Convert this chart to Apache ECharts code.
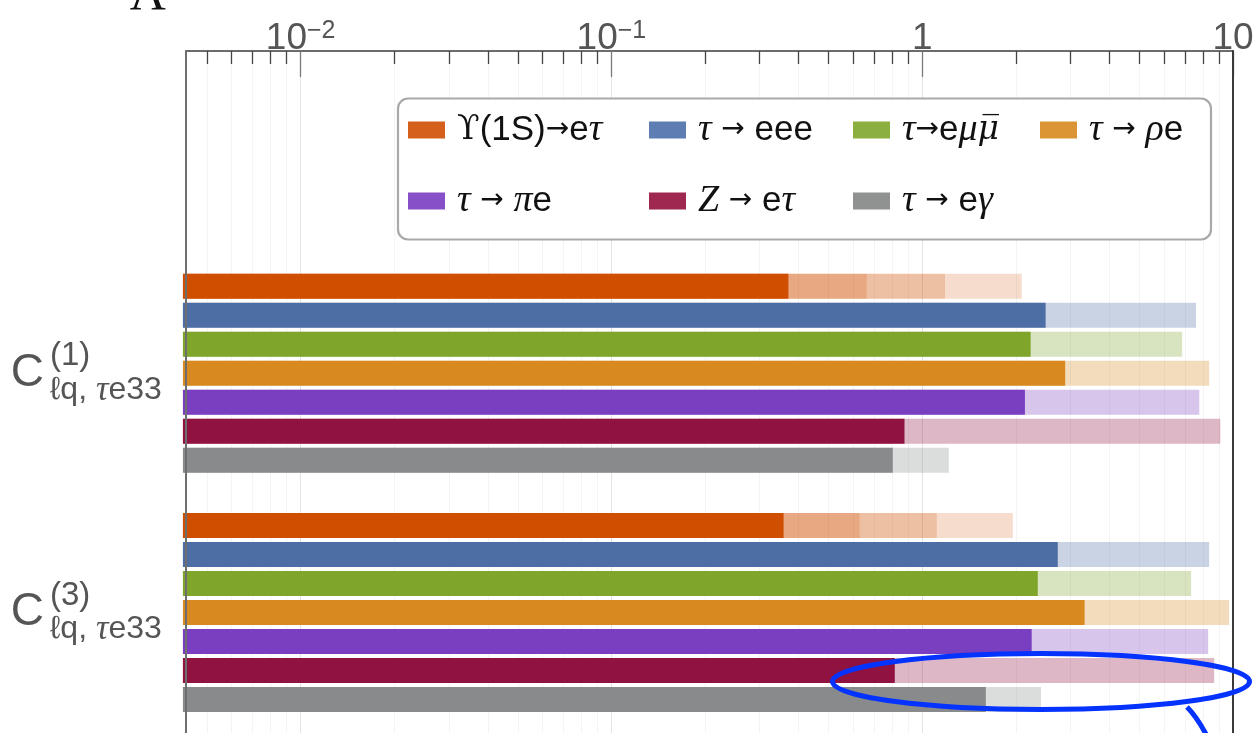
<!DOCTYPE html>
<html>
<head>
<meta charset="utf-8">
<script src="https://cdn.jsdelivr.net/npm/echarts@6/dist/echarts.min.js"></script>
<style>
  html, body { margin: 0; padding: 0; background: #ffffff; }
  #chart { width: 1257px; height: 733px; }
</style>
</head>
<body>
<div id="chart"></div>
<script>
// ---- data -------------------------------------------------------------
const operators = ['C(1) ℓq, τe33', 'C(3) ℓq, τe33'];
const operatorIndex = ['(1)', '(3)'];
const operatorFlavour = 'ℓq, τe33';

const processes = ['ϒ(1S)→eτ', 'τ → eee', 'τ→eμμ\u0305', 'τ → ρe', 'τ → πe', 'Z → eτ', 'τ → eγ'];

// present bounds on the scale (solid bars), per process
const boundC1 = [0.371, 2.495, 2.233, 2.884, 2.14, 0.877, 0.804];
const boundC3 = [0.358, 2.73, 2.354, 3.33, 2.25, 0.816, 1.602];

// projected reach (pale bars), per process
const reachC1 = [[0.663, 1.184, 2.09], [7.60], [6.86], [8.38], [7.79], [9.10], [1.218]];
const reachC3 = [[0.629, 1.114, 1.957], [8.38], [7.33], [9.71], [8.32], [8.70], [2.41]];

const majorTicks = [0.01, 0.1, 1, 10];
const minorTicks = [0.005, 0.006, 0.007, 0.008, 0.009,
                    0.02, 0.03, 0.04, 0.05, 0.06, 0.07, 0.08, 0.09,
                    0.2, 0.3, 0.4, 0.5, 0.6, 0.7, 0.8, 0.9,
                    2, 3, 4, 5, 6, 7, 8, 9];

// ---- styling ----------------------------------------------------------
const barColors    = ['#D04E00', '#4C6EA5', '#7FA52A', '#D88A20', '#7A3EC0', '#901240', '#888A8B'];
const swatchColors = ['#D5601C', '#5E7DB3', '#8BB040', '#DC9535', '#8750C8', '#9E2850', '#909191'];
const paleOpacity  = [0.2, 0.3, 0.3, 0.3, 0.3, 0.3, 0.3];
const legendColumns = [[0, 4], [1, 5], [2, 6], [3]];
const legendLefts   = [408, 649, 853, 1040];

const AX_MIN = 0.004276, AX_MAX = 10, BAR_BASE = 0.00418;
const SLOT = 29 / 239.2, THICK = 25 / 239.2;

const bounds = [boundC1, boundC3];
const reaches = [reachC1, reachC3];

const SANS = '"Liberation Sans", Arial, Helvetica, sans-serif';
const SERIF = '"Liberation Serif", "Times New Roman", serif';

// split a formula string into rich-text runs:
// italic greek (i), barred symbol (o), upright serif (u), arrow (a), sans (n)
function richRuns(str, tags) {
  const chars = Array.from(str);
  let out = '', cls = null, buf = '';
  const flush = () => { if (buf) out += '{' + tags[cls] + '|' + buf + '}'; buf = ''; };
  chars.forEach((ch, j) => {
    let k;
    if (ch === '\u0305') k = 'o';
    else if (chars[j + 1] === '\u0305') k = 'o';
    else if (/[τμρπγZ]/.test(ch)) k = 'i';
    else if (ch === 'ϒ') k = 'u';
    else if (ch === '→') k = 'a';
    else k = 'n';
    if (k !== cls) { flush(); cls = k; }
    buf += ch;
  });
  flush();
  return out;
}

const legendRich = {
  gap: { width: 7 },
  n: { fontFamily: SANS, fontSize: 35, lineHeight: 40, color: '#111' },
  a: { fontFamily: '"DejaVu Sans", sans-serif', fontSize: 28, lineHeight: 40, color: '#111' },
  i: { fontFamily: SERIF, fontStyle: 'italic', fontSize: 38, lineHeight: 40, color: '#111' },
  o: { fontFamily: '"DejaVu Serif", serif', fontStyle: 'italic', fontSize: 33, lineHeight: 40, color: '#111' },
  u: { fontFamily: '"DejaVu Serif", serif', fontSize: 33, lineHeight: 40, color: '#111' }
};

function tickLabel(v) {
  const e = Math.round(Math.log10(v));
  return e < 0 ? '{b|10}{s|\u2212' + (-e) + '}' : '{b|' + Math.pow(10, e) + '}';
}

const chart = echarts.init(document.getElementById('chart'), null, { renderer: 'canvas' });

const option = {
  animation: false,
  backgroundColor: '#ffffff',
  grid: [
    { left: 186, right: 24, top: 51, bottom: -20, outerBoundsMode: 'none' },
    { left: 186, right: 24, top: 253.7, bottom: 0.9, outerBoundsMode: 'none' }
  ],
  xAxis: [
    { // decades, labels and main gridlines
      gridIndex: 0, type: 'log', position: 'top', min: AX_MIN, max: AX_MAX,
      axisLine: { show: true, onZero: false, lineStyle: { color: '#3c3c3c', width: 1.5 } },
      axisTick: { show: true, inside: true, length: 26, customValues: majorTicks,
                  lineStyle: { color: '#7a7a7a', width: 1.3 } },
      minorTick: { show: false },
      axisLabel: {
        customValues: majorTicks, margin: -3, formatter: tickLabel,
        rich: {
          b: { fontFamily: SANS, fontSize: 37, lineHeight: 30, color: '#555' },
          s: { fontFamily: SANS, fontSize: 25, lineHeight: 20, padding: [0, 0, 16, 0], color: '#555' }
        }
      },
      splitLine: { show: true, lineStyle: { color: '#e3e3e3', width: 1 } }
    },
    { // sub-decade ticks and faint gridlines
      gridIndex: 0, type: 'log', position: 'top', min: AX_MIN, max: AX_MAX,
      axisLine: { show: false, onZero: false },
      axisTick: { show: true, inside: true, length: 13, customValues: minorTicks,
                  lineStyle: { color: '#444', width: 1.3 } },
      minorTick: { show: false },
      axisLabel: { show: false },
      splitLine: { show: true, lineStyle: { color: '#f4f4f4', width: 1 } }
    },
    { // value axis of the bars
      gridIndex: 1, type: 'log', min: AX_MIN, max: AX_MAX, show: false,
      axisLine: { onZero: false }
    }
  ],
  yAxis: [
    { gridIndex: 0, type: 'value', min: 0, max: 1, position: 'left', z: 10,
      axisLine: { show: true, onZero: false, lineStyle: { color: '#6e6e6e', width: 2 } },
      axisTick: { show: false }, axisLabel: { show: false }, splitLine: { show: false } },
    { gridIndex: 0, type: 'value', min: 0, max: 1, position: 'right', z: 10,
      axisLine: { show: true, onZero: false, lineStyle: { color: '#3a3a3a', width: 2 } },
      axisTick: { show: false }, axisLabel: { show: false }, splitLine: { show: false } },
    { gridIndex: 1, type: 'category', data: operators, inverse: true, position: 'left',
      axisLine: { show: false, onZero: false }, axisTick: { show: false }, splitLine: { show: false },
      axisLabel: { margin: 142, formatter: () => 'C', fontFamily: SANS, fontSize: 46,
                   color: '#555', padding: [10, 0, 0, 0] } },
    { gridIndex: 1, type: 'category', data: operators, inverse: true, position: 'left',
      axisLine: { show: false, onZero: false }, axisTick: { show: false }, splitLine: { show: false },
      axisLabel: {
        margin: 136, align: 'left',
        formatter: (v, idx) => '{sup|' + operatorIndex[idx] + '}\n' +
                               richRuns(operatorFlavour, { n: 'sn', i: 'si', u: 'sn', a: 'sn', o: 'si' }),
        rich: {
          sup: { fontFamily: SANS, fontSize: 33, lineHeight: 34, color: '#555' },
          sn:  { fontFamily: SANS, fontSize: 32, lineHeight: 34, color: '#555' },
          si:  { fontFamily: SERIF, fontStyle: 'italic', fontSize: 35, lineHeight: 34, color: '#555' }
        }
      } }
  ],
  legend: legendColumns.map((col, k) => ({
    data: col.map(p => ({ name: processes[p], itemStyle: { color: swatchColors[p] } })),
    orient: 'vertical', left: legendLefts[k], top: 111, padding: 0,
    itemGap: 33, itemWidth: 37, itemHeight: 17, icon: 'rect', selectedMode: false,
    formatter: name => '{gap| }' + richRuns(name, { n: 'n', i: 'i', u: 'u', a: 'a', o: 'o' }),
    textStyle: { rich: legendRich }
  })),
  graphic: [
    { type: 'rect', z: 3, shape: { x: 398, y: 98.5, width: 813, height: 141, r: 10 },
      style: { fill: '#ffffff', stroke: '#a9a9a9', lineWidth: 2.2 } },
    { type: 'text', z: 3, x: 148, y: -4,
      style: { text: 'Λ', fontFamily: SERIF, fontSize: 50, fill: '#111', align: 'center', verticalAlign: 'middle' } },
    { type: 'ellipse', z: 20, shape: { cx: 1041, cy: 681.5, rx: 208.5, ry: 28 },
      style: { fill: 'none', stroke: '#0433FF', lineWidth: 5 } },
    { type: 'bezierCurve', z: 20, shape: { x1: 1187, y1: 707, cpx1: 1200, cpy1: 720, x2: 1214, y2: 750 },
      style: { fill: 'none', stroke: '#0433FF', lineWidth: 5 } }
  ],
  series: processes.map((name, p) => ({
    type: 'custom', name, coordinateSystem: 'cartesian2d',
    xAxisIndex: 2, yAxisIndex: 2, clip: false, z: 2,
    itemStyle: { color: barColors[p] },
    encode: { x: 0, y: 1 },
    data: operators.map((op, c) => [bounds[c][p], c]),
    renderItem: (params, api) => {
      const c = api.value(1);
      const origin = api.coord([BAR_BASE, c]);
      const band = api.size([0, 1])[1];
      const h = band * THICK;
      const y0 = origin[1] + (p - 3) * band * SLOT - h / 2;
      const children = reaches[c][p].map(r => {
        const xr = api.coord([r, c])[0];
        return { type: 'rect', shape: { x: origin[0], y: y0, width: xr - origin[0], height: h },
                 style: { fill: barColors[p], opacity: paleOpacity[p] } };
      });
      const xe = api.coord([api.value(0), c])[0];
      children.push({ type: 'rect', shape: { x: origin[0], y: y0, width: xe - origin[0], height: h },
                      style: { fill: barColors[p] } });
      return { type: 'group', children };
    }
  }))
};

chart.setOption(option);
</script>
</body>
</html>
